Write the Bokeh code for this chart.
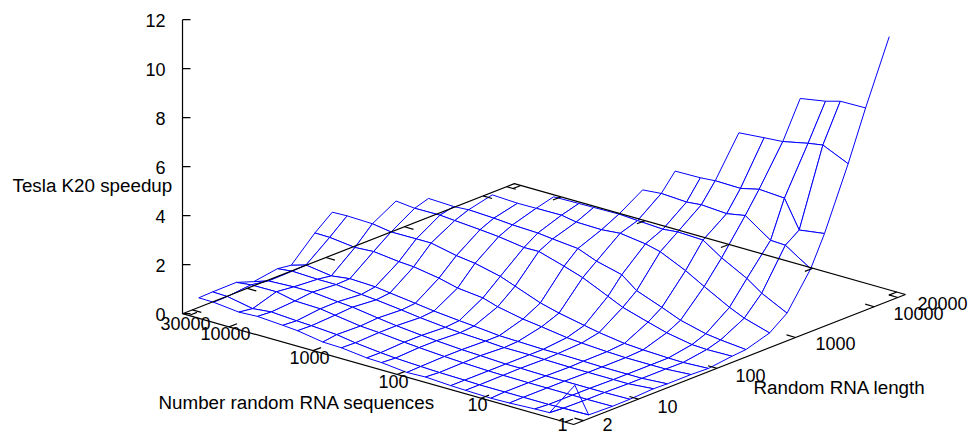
import math
from bokeh.plotting import figure
from bokeh.embed import file_html
from bokeh.resources import INLINE
from bokeh.models import Range1d
from bokeh.core.properties import value

# Axis tick labels
sequence_ticks = [1, 10, 100, 1000, 10000, 30000]
length_ticks = [2, 10, 100, 1000, 10000, 20000]
speedup_ticks = [0, 2, 4, 6, 8, 10, 12]

# Grid of the surface
sequences = [1, 2, 3, 6, 10, 20, 30, 60, 100, 200, 300, 600, 1000, 2000, 3000, 6000, 10000, 20000, 30000]
lengths = [2, 3, 6, 10, 20, 30, 60, 100, 200, 300, 600, 1000, 2000, 3000, 6000, 10000, 20000]

# Speedup per RNA length, for increasing number of sequences (longer runs stop early)
len_2 = [1.55, .14, .12, .07, .05, .08, .10, .16, .13, .24, .26, .38, .40, .57, .62, .69, .65, .76, .77]
len_3 = [.12, .10, .08, .08, .08, .08, .10, .12, .15, .20, .25, .36, .48, .55, .58, .65, .57, .77, .79]
len_6 = [.09, .08, .08, .08, .08, .09, .10, .14, .18, .25, .30, .40, .45, .60, .69, .72, .88, .87, .80]
len_10 = [.10, .08, .08, .08, .08, .10, .10, .15, .18, .25, .30, .40, .50, .65, .70, .80, .80, .75, .55]
len_20 = [.15, .06, .06, .06, .06, .08, .10, .10, .15, .20, .25, .35, .45, .57, .62, .73, .73, .77, .70]
len_30 = [.13, .06, .06, .06, .08, .10, .10, .13, .15, .25, .30, .40, .50, .63, .71, .75, .65, .80, .62]
len_60 = [.13, .06, .06, .06, .09, .15, .20, .35, .45, .66, .85, .96, 1.15, 1.32, 1.36, 1.48, 1.43, 1.55, 1.56]
len_100 = [.10, .05, .06, .10, .15, .30, .42, .63, .83, 1.22, 1.45, 1.69, 1.79, 2.01, 2.01, 2.00, 2.12, 2.15, 2.13]
len_200 = [.22, .20, .23, .42, .64, .95, 1.23, 1.70, 1.95, 2.26, 2.25, 2.40, 2.47, 2.55, 2.60, 2.59, 2.67]
len_300 = [.27, .37, .45, .71, 1.02, 1.41, 1.89, 2.15, 2.45, 2.55, 2.62, 2.66, 2.72, 2.77, 2.73, 2.77]
len_600 = [.57, .88, 1.15, 1.71, 2.14, 2.62, 2.77, 2.91, 2.84, 2.86, 2.97, 2.96, 2.95, 3.00]
len_1000 = [1.10, 1.62, 2.05, 2.60, 3.11, 3.15, 3.09, 3.15, 3.20, 3.18, 3.17, 3.15]
len_2000 = [2.53, 3.20, 3.23, 3.95, 3.81, 3.88, 3.82, 3.88, 3.81]
len_3000 = [3.75, 3.60, 4.73, 4.80, 4.62, 4.64, 4.59, 4.57]
len_6000 = [6.22, 6.69, 6.59, 6.37, 6.31, 6.22]
len_10000 = [8.22, 8.20, 8.03, 7.85]
len_20000 = [10.75]
rows = [len_2, len_3, len_6, len_10, len_20, len_30, len_60, len_100, len_200, len_300,
        len_600, len_1000, len_2000, len_3000, len_6000, len_10000, len_20000]

# Range of the base plane
S_MIN, S_MAX, L_MIN, L_MAX = 0.79, 35800, 1.5, 25000
BLUE, BLACK = "#0000ff", "#000000"
FONT = value("Liberation Sans")
FS = "18px"
TITLE_FS = "18.8px"


def sx(s, l):
    return 550.7 - 84.0 * math.log10(s) + 78.6 * math.log10(l)


def sy(s, l, z=0.0):
    return 432 - 23.8 * math.log10(s) - 30.8 * math.log10(l) - 24.5 * z


def base_y(s, l):
    return sy(s, l) - 5


p = figure(width=969, height=434, output_backend="svg", toolbar_location=None,
           x_range=Range1d(0, 969), y_range=Range1d(434, 0), min_border=0,
           outline_line_color=None, margin=(0, 0, 0, 0))
p.axis.visible = False
p.grid.visible = False

# Surface: quads painted from the far corner to the near corner
# (the spike's quad at the near corner is seen through)
qx, qy, qa = [], [], []
for j in range(len(lengths) - 2, -1, -1):
    for i in range(len(rows[j + 1]) - 2, -1, -1):
        corners = [(i, j), (i + 1, j), (i + 1, j + 1), (i, j + 1)]
        qx.append([sx(sequences[a], lengths[b]) for a, b in corners])
        qy.append([sy(sequences[a], lengths[b], rows[b][a]) for a, b in corners])
        qa.append(0.0 if (i, j) == (0, 0) else 1.0)
p.patches(qx, qy, fill_color="white", fill_alpha=qa, line_color=BLUE, line_width=1)
p.line([sx(1, lengths[-2]), sx(1, lengths[-1])],
       [sy(1, lengths[-2], len_10000[0]), sy(1, lengths[-1], len_20000[0])],
       line_color=BLUE, line_width=1)

# Base plane and vertical axis
corner_s = [S_MIN, S_MAX, S_MAX, S_MIN, S_MIN]
corner_l = [L_MIN, L_MIN, L_MAX, L_MAX, L_MIN]
p.line([sx(a, b) for a, b in zip(corner_s, corner_l)],
       [base_y(a, b) for a, b in zip(corner_s, corner_l)], line_color=BLACK, line_width=1.2)
zx = sx(S_MAX, L_MIN)
zy = base_y(S_MAX, L_MIN)
p.line([zx, zx], [zy, zy - 24.5 * speedup_ticks[-1]], line_color=BLACK, line_width=1.2)
p.segment([zx] * 7, [zy - 24.5 * v for v in speedup_ticks],
          [zx + 8] * 7, [zy - 24.5 * v for v in speedup_ticks], line_color=BLACK, line_width=1.2)

# Ticks on the base plane
x0, y0, x1, y1 = [], [], [], []
for s in sequence_ticks:
    for l, sign in ((L_MIN, 1), (L_MAX, -1)):
        x0.append(sx(s, l)); y0.append(base_y(s, l))
        x1.append(sx(s, l) + sign * 8); y1.append(base_y(s, l) - sign * 3.1)
for l in length_ticks:
    for s, sign in ((S_MIN, -1), (S_MAX, 1)):
        x0.append(sx(s, l)); y0.append(base_y(s, l))
        x1.append(sx(s, l) + sign * 9); y1.append(base_y(s, l) + sign * 2.6)
p.segment(x0, y0, x1, y1, line_color=BLACK, line_width=1.2)

# Tick labels
p.text([165] * 7, [zy + 1 - 24.5 * v for v in speedup_ticks], text=[str(v) for v in speedup_ticks],
       text_align="right", text_baseline="middle", text_font=FONT, text_font_size=FS, text_color=BLACK)
seq_lx = [567, 487, 408, 329, 250, 210]
seq_ly = [424, 404, 381, 357, 333, 323]
p.text(seq_lx, seq_ly, text=[str(v) for v in sequence_ticks], text_align="right", text_baseline="middle",
       text_font=FONT, text_font_size=FS, text_color=BLACK)
len_lx = [602, 657, 735, 815, 893, 917]
len_ly = [424, 406, 375, 343, 313, 303]
p.text(len_lx, len_ly, text=[str(v) for v in length_ticks], text_align="left", text_baseline="middle",
       text_font=FONT, text_font_size=FS, text_color=BLACK)

# Axis titles
p.text([158, 753, 12], [402, 387, 185],
       text=["Number random RNA sequences", "Random RNA length", "Tesla K20 speedup"],
       text_align="left", text_baseline="middle", text_font=FONT, text_font_size=TITLE_FS, text_color=BLACK)

open("out.html", "w").write(file_html(p, INLINE))
